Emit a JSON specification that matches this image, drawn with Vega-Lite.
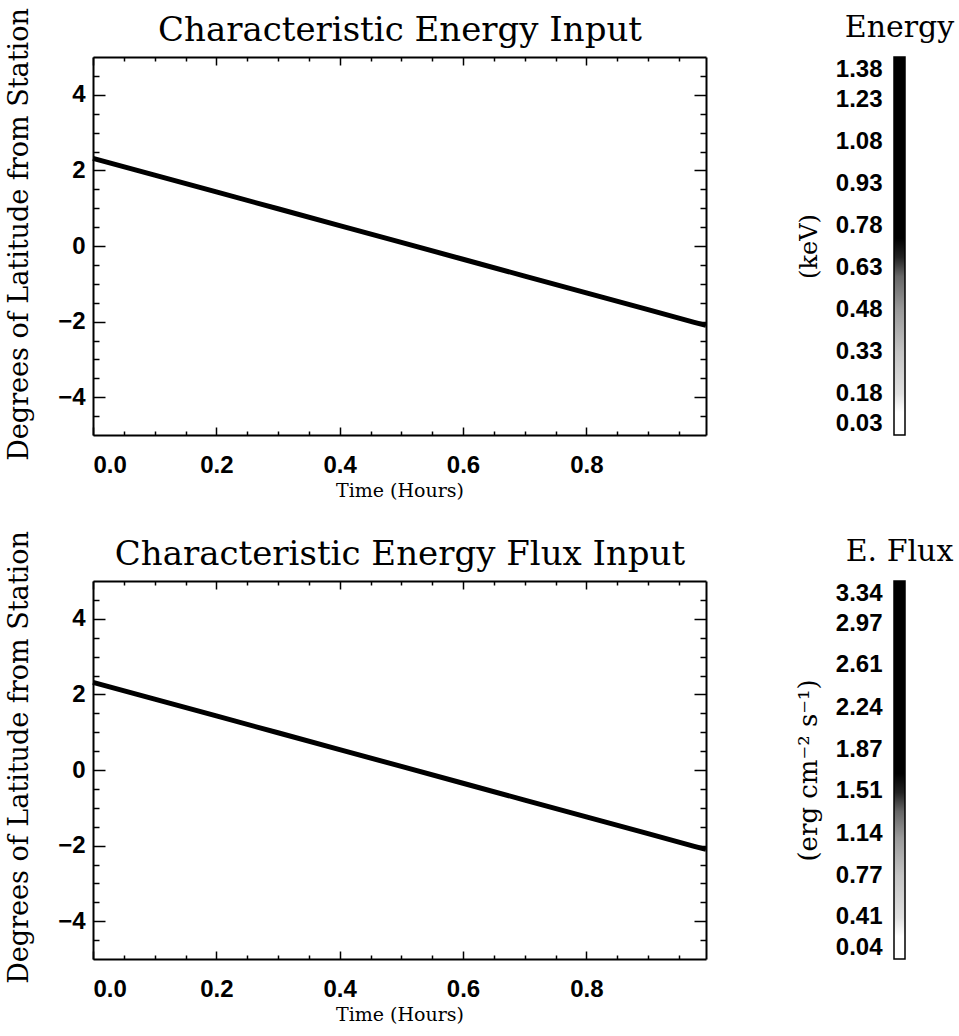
{
  "$schema": "https://vega.github.io/schema/vega-lite/v6.json",
  "background": "white",
  "padding": {"left": 5, "top": 7, "right": 5, "bottom": 5},
  "config": {
    "view": {"stroke": null},
    "axis": {
      "grid": false,
      "minExtent": 0,
      "labelFont": "Liberation Sans",
      "labelFontSize": 24,
      "labelFontWeight": "bold",
      "labelColor": "black",
      "domainColor": "black",
      "domainWidth": 2,
      "tickColor": "black",
      "tickWidth": 1.5,
      "titleFont": "DejaVu Serif",
      "titleFontWeight": "normal",
      "titleColor": "black"
    },
    "title": {"font": "DejaVu Serif", "fontWeight": "normal", "color": "black"}
  },
  "datasets": {
    "track": [
      {"t": 0.0, "lat": 2.32},
      {"t": 0.1, "lat": 1.875},
      {"t": 0.2, "lat": 1.43},
      {"t": 0.3, "lat": 0.985},
      {"t": 0.4, "lat": 0.54},
      {"t": 0.5, "lat": 0.095},
      {"t": 0.6, "lat": -0.35},
      {"t": 0.7, "lat": -0.795},
      {"t": 0.8, "lat": -1.24},
      {"t": 0.9, "lat": -1.685},
      {"t": 0.975, "lat": -2.02},
      {"t": 0.994, "lat": -2.1}
    ]
  },
  "columns": 2,
  "spacing": {"row": 146, "column": 188},
  "bounds": "flush",
  "concat": [
    {
      "width": 613,
      "height": 378,
      "data": {"name": "track"},
      "layer": [
        {
          "mark": {"type": "line", "color": "black", "strokeWidth": 5},
          "encoding": {
            "x": {"field": "t", "type": "quantitative", "scale": {"domain": [0, 0.994], "nice": false, "zero": false},
              "axis": {"orient": "bottom", "values": [0, 0.2, 0.4, 0.6, 0.8], "format": ".1f", "ticks": false, "domain": false, "labelPadding": 18, "title": "Time (Hours)", "titleFontSize": 19, "titlePadding": 4}},
            "y": {"field": "lat", "type": "quantitative", "scale": {"domain": [-5, 5], "nice": false, "zero": false},
              "axis": {"orient": "left", "values": [-4, -2, 0, 2, 4], "format": "d", "ticks": false, "domain": false, "labelPadding": 8, "title": "Degrees of Latitude from Station", "titleFontSize": 27, "titlePadding": 24, "titleY": 177}}
          }
        },
        {
          "mark": {"type": "line", "opacity": 0},
          "encoding": {
            "x": {"field": "t", "type": "quantitative", "axis": {"orient": "bottom", "values": [0, 0.2, 0.4, 0.6, 0.8], "labels": false, "title": null, "tickSize": -8}},
            "y": {"field": "lat", "type": "quantitative", "axis": {"orient": "left", "values": [-4, -2, 0, 2, 4], "labels": false, "title": null, "tickSize": -12}}
          }
        },
        {
          "mark": {"type": "line", "opacity": 0},
          "encoding": {
            "x": {"field": "t", "type": "quantitative", "axis": {"orient": "top", "values": [0, 0.2, 0.4, 0.6, 0.8], "labels": false, "title": "Characteristic Energy Input", "titleFontSize": 34, "titlePadding": 9, "tickSize": -8}},
            "y": {"field": "lat", "type": "quantitative", "axis": {"orient": "right", "values": [-4, -2, 0, 2, 4], "labels": false, "title": null, "tickSize": -12}}
          }
        },
        {
          "mark": {"type": "line", "opacity": 0},
          "encoding": {
            "x": {"field": "t", "type": "quantitative", "axis": {"orient": "bottom", "values": [0.05, 0.1, 0.15, 0.25, 0.3, 0.35, 0.45, 0.5, 0.55, 0.65, 0.7, 0.75, 0.85, 0.9, 0.95], "labels": false, "domain": false, "title": null, "tickSize": -4}},
            "y": {"field": "lat", "type": "quantitative", "axis": {"orient": "left", "values": [-4.5, -3.5, -3, -2.5, -1.5, -1, -0.5, 0.5, 1, 1.5, 2.5, 3, 3.5, 4.5], "labels": false, "domain": false, "title": null, "tickSize": -6}}
          }
        },
        {
          "mark": {"type": "line", "opacity": 0},
          "encoding": {
            "x": {"field": "t", "type": "quantitative", "axis": {"orient": "top", "values": [0.05, 0.1, 0.15, 0.25, 0.3, 0.35, 0.45, 0.5, 0.55, 0.65, 0.7, 0.75, 0.85, 0.9, 0.95], "labels": false, "domain": false, "title": null, "tickSize": -4}},
            "y": {"field": "lat", "type": "quantitative", "axis": {"orient": "right", "values": [-4.5, -3.5, -3, -2.5, -1.5, -1, -0.5, 0.5, 1, 1.5, 2.5, 3, 3.5, 4.5], "labels": false, "domain": false, "title": null, "tickSize": -6}}
          }
        }
      ],
      "resolve": {"axis": {"x": "independent", "y": "independent"}}
    },
    {
      "width": 11,
      "height": 378,
      "title": {"text": "Energy", "fontSize": 30, "offset": 13},
      "data": {"values": [{"lo": 0.03, "hi": 1.38}]},
      "mark": {"type": "rect", "stroke": "black", "strokeWidth": 1.5,
        "fill": {"gradient": "linear", "x1": 0, "y1": 1, "x2": 0, "y2": 0,
          "stops": [
            {"offset": 0, "color": "#ffffff"},
            {"offset": 0.06, "color": "#ffffff"},
            {"offset": 0.11, "color": "#e0e0e0"},
            {"offset": 0.22, "color": "#c4c4c4"},
            {"offset": 0.33, "color": "#9a9a9a"},
            {"offset": 0.42, "color": "#666666"},
            {"offset": 0.47, "color": "#222222"},
            {"offset": 0.52, "color": "#000000"},
            {"offset": 1, "color": "#000000"}
          ]}},
      "encoding": {
        "x": {"datum": 0, "type": "quantitative", "scale": {"domain": [0, 1]}, "axis": null},
        "x2": {"datum": 1},
        "y": {"field": "lo", "type": "quantitative", "scale": {"domain": [0.03, 1.38], "nice": false, "zero": false},
          "axis": {"orient": "left", "values": [0.03, 0.18, 0.33, 0.48, 0.63, 0.78, 0.93, 1.08, 1.23, 1.38], "format": ".2f", "ticks": false, "domain": false, "labelFlush": true, "labelPadding": 12, "title": "(keV)", "titleFontSize": 24, "titlePadding": 14}},
        "y2": {"field": "hi"}
      }
    },
    {
      "width": 613,
      "height": 378,
      "data": {"name": "track"},
      "layer": [
        {
          "mark": {"type": "line", "color": "black", "strokeWidth": 5},
          "encoding": {
            "x": {"field": "t", "type": "quantitative", "scale": {"domain": [0, 0.994], "nice": false, "zero": false},
              "axis": {"orient": "bottom", "values": [0, 0.2, 0.4, 0.6, 0.8], "format": ".1f", "ticks": false, "domain": false, "labelPadding": 18, "title": "Time (Hours)", "titleFontSize": 19, "titlePadding": 4}},
            "y": {"field": "lat", "type": "quantitative", "scale": {"domain": [-5, 5], "nice": false, "zero": false},
              "axis": {"orient": "left", "values": [-4, -2, 0, 2, 4], "format": "d", "ticks": false, "domain": false, "labelPadding": 8, "title": "Degrees of Latitude from Station", "titleFontSize": 27, "titlePadding": 24, "titleY": 176}}
          }
        },
        {
          "mark": {"type": "line", "opacity": 0},
          "encoding": {
            "x": {"field": "t", "type": "quantitative", "axis": {"orient": "bottom", "values": [0, 0.2, 0.4, 0.6, 0.8], "labels": false, "title": null, "tickSize": -8}},
            "y": {"field": "lat", "type": "quantitative", "axis": {"orient": "left", "values": [-4, -2, 0, 2, 4], "labels": false, "title": null, "tickSize": -12}}
          }
        },
        {
          "mark": {"type": "line", "opacity": 0},
          "encoding": {
            "x": {"field": "t", "type": "quantitative", "axis": {"orient": "top", "values": [0, 0.2, 0.4, 0.6, 0.8], "labels": false, "title": "Characteristic Energy Flux Input", "titleFontSize": 34, "titlePadding": 9, "tickSize": -8}},
            "y": {"field": "lat", "type": "quantitative", "axis": {"orient": "right", "values": [-4, -2, 0, 2, 4], "labels": false, "title": null, "tickSize": -12}}
          }
        },
        {
          "mark": {"type": "line", "opacity": 0},
          "encoding": {
            "x": {"field": "t", "type": "quantitative", "axis": {"orient": "bottom", "values": [0.05, 0.1, 0.15, 0.25, 0.3, 0.35, 0.45, 0.5, 0.55, 0.65, 0.7, 0.75, 0.85, 0.9, 0.95], "labels": false, "domain": false, "title": null, "tickSize": -4}},
            "y": {"field": "lat", "type": "quantitative", "axis": {"orient": "left", "values": [-4.5, -3.5, -3, -2.5, -1.5, -1, -0.5, 0.5, 1, 1.5, 2.5, 3, 3.5, 4.5], "labels": false, "domain": false, "title": null, "tickSize": -6}}
          }
        },
        {
          "mark": {"type": "line", "opacity": 0},
          "encoding": {
            "x": {"field": "t", "type": "quantitative", "axis": {"orient": "top", "values": [0.05, 0.1, 0.15, 0.25, 0.3, 0.35, 0.45, 0.5, 0.55, 0.65, 0.7, 0.75, 0.85, 0.9, 0.95], "labels": false, "domain": false, "title": null, "tickSize": -4}},
            "y": {"field": "lat", "type": "quantitative", "axis": {"orient": "right", "values": [-4.5, -3.5, -3, -2.5, -1.5, -1, -0.5, 0.5, 1, 1.5, 2.5, 3, 3.5, 4.5], "labels": false, "domain": false, "title": null, "tickSize": -6}}
          }
        }
      ],
      "resolve": {"axis": {"x": "independent", "y": "independent"}}
    },
    {
      "width": 11,
      "height": 378,
      "title": {"text": "E. Flux", "fontSize": 30, "offset": 13},
      "data": {"values": [{"lo": 0.04, "hi": 3.34}]},
      "mark": {"type": "rect", "stroke": "black", "strokeWidth": 1.5,
        "fill": {"gradient": "linear", "x1": 0, "y1": 1, "x2": 0, "y2": 0,
          "stops": [
            {"offset": 0, "color": "#ffffff"},
            {"offset": 0.06, "color": "#ffffff"},
            {"offset": 0.11, "color": "#e0e0e0"},
            {"offset": 0.22, "color": "#c4c4c4"},
            {"offset": 0.32, "color": "#9a9a9a"},
            {"offset": 0.39, "color": "#666666"},
            {"offset": 0.44, "color": "#222222"},
            {"offset": 0.49, "color": "#000000"},
            {"offset": 1, "color": "#000000"}
          ]}},
      "encoding": {
        "x": {"datum": 0, "type": "quantitative", "scale": {"domain": [0, 1]}, "axis": null},
        "x2": {"datum": 1},
        "y": {"field": "lo", "type": "quantitative", "scale": {"domain": [0.04, 3.34], "nice": false, "zero": false},
          "axis": {"orient": "left", "values": [0.04, 0.41, 0.77, 1.14, 1.51, 1.87, 2.24, 2.61, 2.97, 3.34], "format": ".2f", "ticks": false, "domain": false, "labelFlush": true, "labelPadding": 12, "title": "(erg cm⁻² s⁻¹)", "titleFontSize": 26, "titlePadding": 14}},
        "y2": {"field": "hi"}
      }
    }
  ]
}
